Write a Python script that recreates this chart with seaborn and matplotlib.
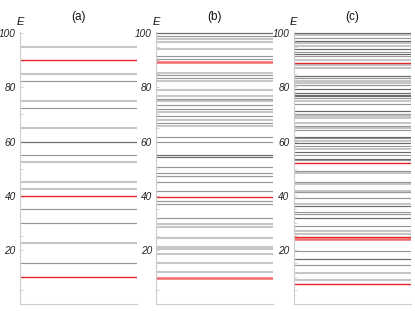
import numpy as np
import pandas as pd
import matplotlib
matplotlib.use("Agg")
import matplotlib.pyplot as plt
import seaborn as sns
from matplotlib.ticker import MultipleLocator

# ---------------- data ----------------
panel_titles = ["(a)", "(b)", "(c)"]

levels_a = [95, 90, 85, 82.5, 75, 72.5, 65, 60, 55, 52.5, 45, 42.5, 40, 35, 30, 22.5, 15, 10]
kinds_a = ["light", "red", "light", "gray", "light", "gray", "light", "dark", "gray", "light",
           "light", "light", "red", "gray", "gray", "light", "gray", "red"]

levels_b = [100, 98.8, 97.8, 96.8, 94, 91.6, 90.6, 89.4, 85.2, 84.4, 83.4, 82.2, 79, 76.8, 75.8,
            74.8, 73.6, 71.9, 70.9, 69.4, 67.9, 66.9, 65.7, 61.8, 59.7, 55.1, 54.1, 50.6, 48.4,
            47.4, 45.1, 41.7, 39.5, 38.2, 37.1, 31.7, 29.6, 28.6, 24.2, 21, 20.3, 18.5, 15.3, 12, 9.7]
kinds_b = ["dark", "gray", "light", "light", "light", "gray", "gray", "redlight", "light", "gray",
           "gray", "light", "light", "light", "gray", "light", "gray", "gray", "light", "gray",
           "light", "gray", "light", "gray", "gray", "dark", "dark", "gray", "gray", "gray",
           "gray", "gray", "red", "gray", "gray", "gray", "light", "light", "light", "light",
           "light", "light", "light", "light", "redlight"]

levels_c = [100, 99.3, 98.3, 97.3, 96.3, 95.3, 94.1, 93.2, 92.2, 91.4, 90.1, 89.1, 88.1, 87.2,
            84.2, 83.4, 82.5, 81.5, 80.7, 79.3, 78, 77.3, 76.8, 76, 75.1, 73.8, 71.4, 70.1, 69.4,
            68.6, 66.7, 65.7, 64.9, 64.2, 61.7, 61.2, 60.3, 59.3, 58.3, 57.3, 56, 55, 53.6, 53,
            51.9, 49.1, 48.4, 45.1, 44.2, 41.7, 41.2, 39.1, 36.9, 36.3, 34.1, 33.2, 31.9, 28.9,
            26.8, 25.9, 24.7, 24, 19.6, 16.6, 14.3, 11.4, 8.9, 7.3]
kinds_c = ["dark", "light", "gray", "dark", "light", "light", "dark", "gray", "dark", "gray",
           "light", "red", "light", "light", "dark", "gray", "light", "light", "gray", "dark",
           "dark", "dark", "dark", "gray", "light", "gray", "dark", "gray", "light", "light",
           "light", "gray", "light", "gray", "dark", "gray", "light", "dark", "gray", "light",
           "dark", "gray", "dark", "gray", "red", "gray", "light", "gray", "light", "light",
           "gray", "gray", "light", "dark", "gray", "gray", "dark", "gray", "light", "light",
           "red", "redlight", "gray", "dark", "gray", "light", "light", "red"]

y_ticks = [20, 40, 60, 80, 100]

# ---------------- style ----------------
sns.set_style("white")
plt.rcParams["font.family"] = ["Liberation Sans", "DejaVu Sans"]

palette = {"light": "#c6c6c6", "gray": "#979797", "dark": "#6a6a6a",
           "redlight": "#f26a6a", "red": "#e3262a"}
sizes = {"light": 1.5, "gray": 0.85, "dark": 0.85, "redlight": 1.8, "red": 1.0}
order = ["light", "gray", "dark", "redlight", "red"]

fig = plt.figure(figsize=(4.15, 3.11), dpi=100)
lefts = [0.048, 0.376, 0.708]
width = 0.283
bottom = 0.0225
height = 0.876

panels = [(levels_a, kinds_a), (levels_b, kinds_b), (levels_c, kinds_c)]
spine_col = "#cccccc"

for i, ((lv, kd), title) in enumerate(zip(panels, panel_titles)):
    ax = fig.add_axes([lefts[i], bottom, width, height])
    rows = []
    for j, (e, k) in enumerate(zip(lv, kd)):
        rows.append({"x": 0.0, "E": e, "kind": k, "level": j})
        rows.append({"x": 1.0, "E": e, "kind": k, "level": j})
    df = pd.DataFrame(rows)
    present = [k for k in order if k in set(kd)]
    sns.lineplot(data=df, x="x", y="E", hue="kind", size="kind", units="level",
                 estimator=None, palette=palette, sizes=sizes, hue_order=present,
                 size_order=present, legend=False, ax=ax)
    ax.set_xlim(0, 1)
    ax.set_ylim(0, 100.6)
    ax.set_xticks([])
    ax.set_yticks(y_ticks)
    ax.yaxis.set_minor_locator(MultipleLocator(5))
    ax.set_yticklabels([str(t) for t in y_ticks], fontstyle="italic", fontsize=7.2, color="#222222")
    ax.tick_params(axis="y", which="both", direction="in", length=2.5, width=0.6,
                   color=spine_col, pad=3, left=True)
    ax.set_xlabel("")
    ax.set_ylabel("")
    for s in ["top", "right"]:
        ax.spines[s].set_visible(False)
    for s in ["left", "bottom"]:
        ax.spines[s].set_color(spine_col)
        ax.spines[s].set_linewidth(0.8)
    ax.set_title(title, fontsize=8.5, pad=8, color="#111111")
    ax.annotate("E", xy=(0, 1), xycoords="axes fraction", xytext=(0, 3.5),
                textcoords="offset points", ha="center", va="bottom",
                fontsize=8, fontstyle="italic", color="#111111")

fig.savefig("out.png", dpi=100)
